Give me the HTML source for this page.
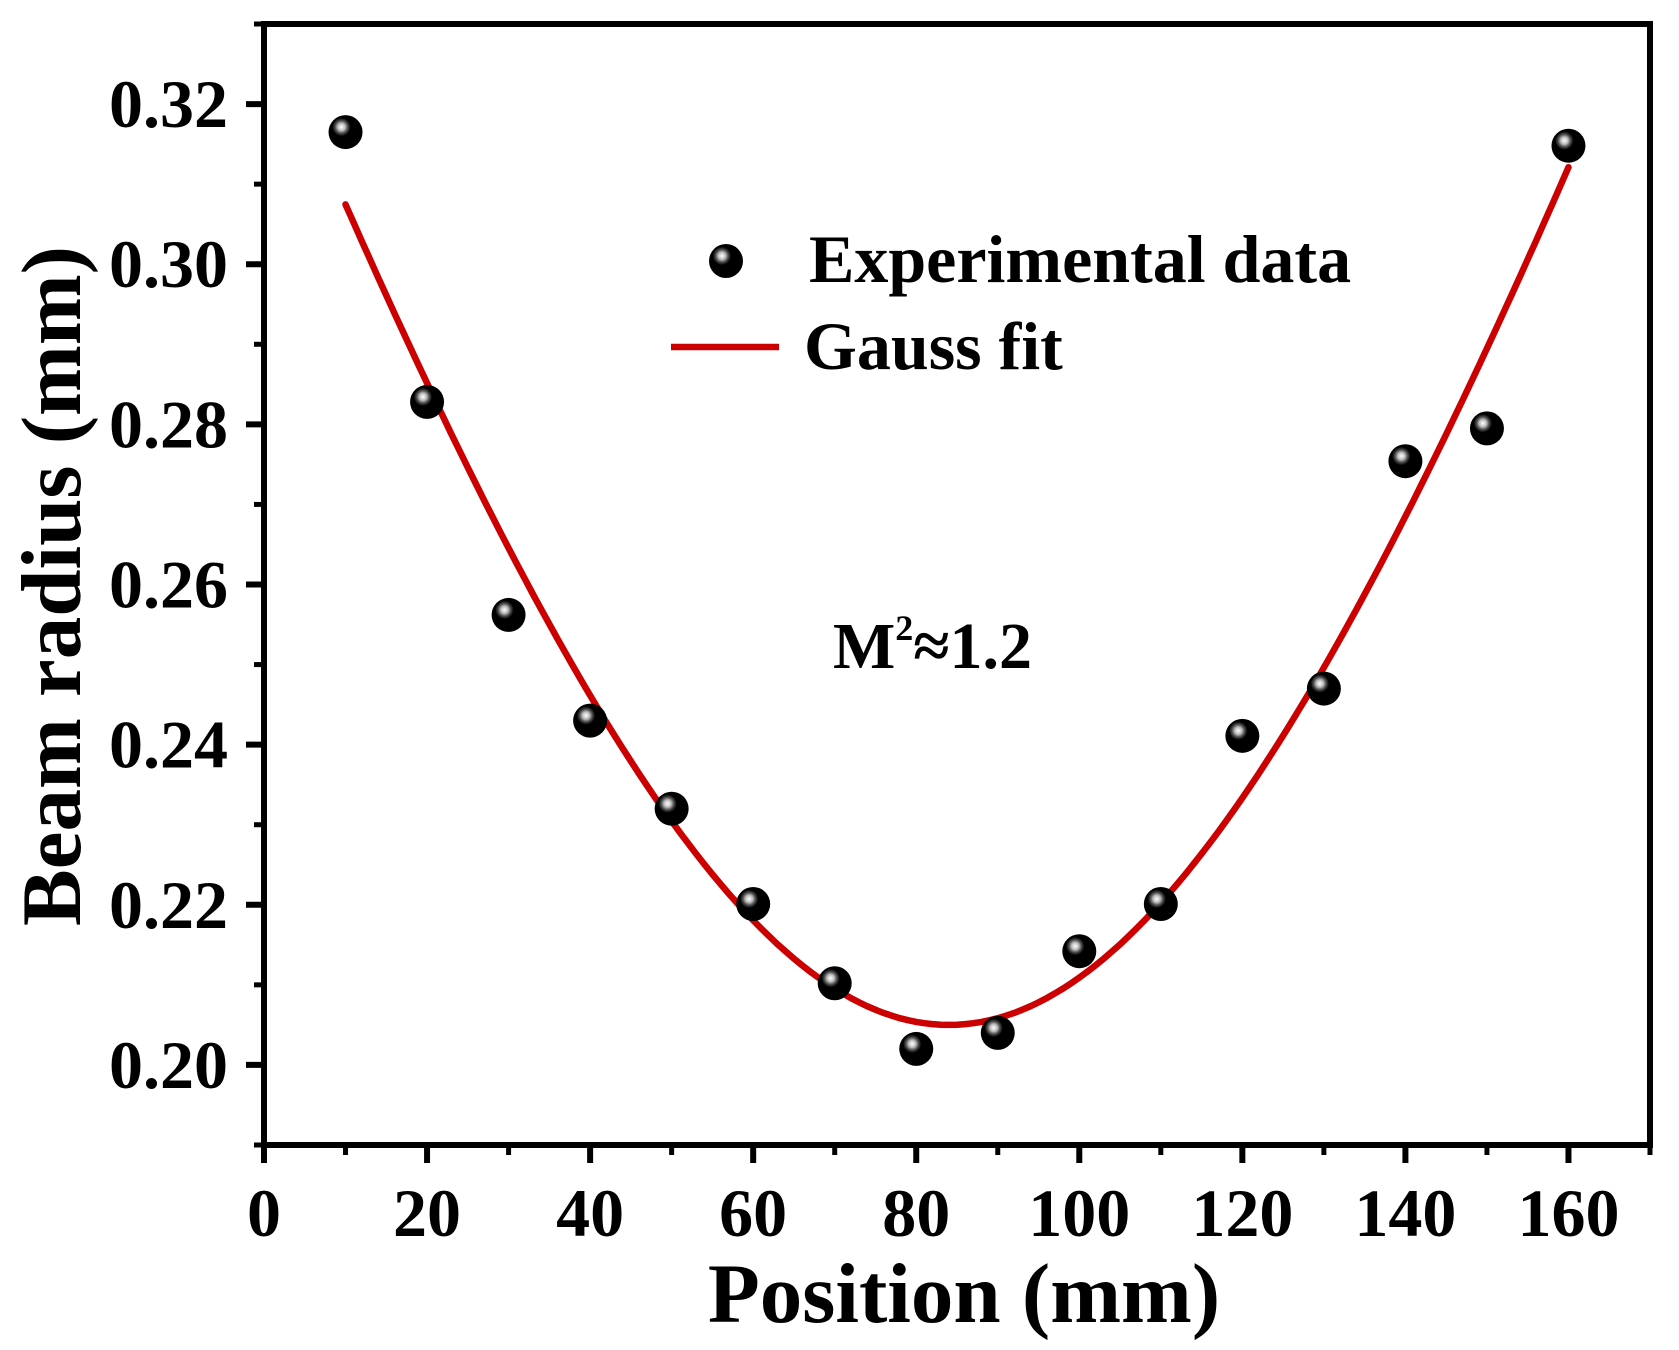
<!DOCTYPE html>
<html><head><meta charset="utf-8"><style>
html,body{margin:0;padding:0;background:#fff;}
svg{display:block;}
text{font-family:"Liberation Serif",serif;font-weight:bold;fill:#000;}
</style></head><body>
<svg id="chart" width="1679" height="1350" viewBox="0 0 1679 1350" xmlns="http://www.w3.org/2000/svg">
<defs>
<radialGradient id="ball" cx="0.38" cy="0.35" r="0.6">
<stop offset="0" stop-color="#fff"/>
<stop offset="0.18" stop-color="#bbb"/>
<stop offset="0.3" stop-color="#555"/>
<stop offset="0.45" stop-color="#000"/>
<stop offset="1" stop-color="#000"/>
</radialGradient>
</defs>
<g id="plot"></g>
</svg>
<script>
const xData = [10,20,30,40,50,60,70,80,90,100,110,120,130,140,150,160];
const yData = [0.3165,0.2828,0.2562,0.2430,0.2320,0.2201,0.2102,0.2020,0.2040,0.2142,0.2201,0.2411,0.2470,0.2754,0.2795,0.3148];
const fitW0 = 0.205, fitZ0 = 84, fitZR = 66.2;
const xTicks = [0,20,40,60,80,100,120,140,160];
const xMinor = [10,30,50,70,90,110,130,150,170];
const yTicks = [0.20,0.22,0.24,0.26,0.28,0.30,0.32];
const yMinor = [0.19,0.21,0.23,0.25,0.27,0.29,0.31,0.33];

const L=264,R=1650,T=24,B=1145;
const X0=0,X1=170,Y0=0.19,Y1=0.33;
const sx=v=>L+(v-X0)/(X1-X0)*(R-L);
const sy=v=>B-(v-Y0)/(Y1-Y0)*(B-T);
const NS="http://www.w3.org/2000/svg";
const g=document.getElementById('plot');
function mk(tag,attrs,parent){const e=document.createElementNS(NS,tag);for(const k in attrs)e.setAttribute(k,attrs[k]);(parent||g).appendChild(e);return e;}

const frame=mk('rect',{x:L,y:T,width:R-L,height:B-T,fill:'none',stroke:'#000','stroke-width':6});



xTicks.forEach(v=>{
  const t=mk('line',{x1:sx(v),x2:sx(v),y1:B,y2:B+18,stroke:'#000','stroke-width':6});
  
  
  const lb=mk('text',{x:sx(v),y:1236,'text-anchor':'middle','font-size':68});
  lb.textContent=String(v);
  
  
});
xMinor.forEach(v=>{
  const t=mk('line',{x1:sx(v),x2:sx(v),y1:B,y2:B+10,stroke:'#000','stroke-width':5});
  
  
});
yTicks.forEach(v=>{
  const t=mk('line',{x1:L-18,x2:L,y1:sy(v),y2:sy(v),stroke:'#000','stroke-width':6});
  
  
  const lb=mk('text',{x:228,y:sy(v)+23,'text-anchor':'end','font-size':68});
  lb.textContent=v.toFixed(2);
  
  
});
yMinor.forEach(v=>{
  const t=mk('line',{x1:L-10,x2:L,y1:sy(v),y2:sy(v),stroke:'#000','stroke-width':5});
  
  
});

let d='';
for(let z=xData[0];z<=xData[xData.length-1]+0.001;z+=1){
  const w=fitW0*Math.sqrt(1+Math.pow((z-fitZ0)/fitZR,2));
  d+=(d?'L':'M')+sx(z).toFixed(1)+','+sy(w).toFixed(1);
}
const fit=mk('path',{d:d,fill:'none',stroke:'#cc0000','stroke-width':6.5,'stroke-linecap':'round'});



xData.forEach((x,i)=>{
  const c=mk('circle',{cx:sx(x),cy:sy(yData[i]),r:17,fill:'url(#ball)'});
  
  
});

const lm=mk('circle',{cx:726,cy:261,r:17,fill:'url(#ball)'});


const lt1=mk('text',{x:809,y:282,'font-size':68});
lt1.textContent='Experimental data';


const ll=mk('line',{x1:671,x2:779,y1:347,y2:347,stroke:'#cc0000','stroke-width':6.5});


const lt2=mk('text',{x:804,y:369,'font-size':68});
lt2.textContent='Gauss fit';



const an=mk('text',{x:833,y:668,'font-size':66});
an.innerHTML='M<tspan font-size="36" dy="-28">2</tspan><tspan dy="28">≈1.2</tspan>';



const xt=mk('text',{x:964,y:1322,'text-anchor':'middle','font-size':85});
xt.textContent='Position (mm)';


const yt=mk('text',{x:0,y:0,'text-anchor':'middle','font-size':85,transform:'translate(80,586) rotate(-90)'});
yt.textContent='Beam radius (mm)';


</script>
</body></html>
